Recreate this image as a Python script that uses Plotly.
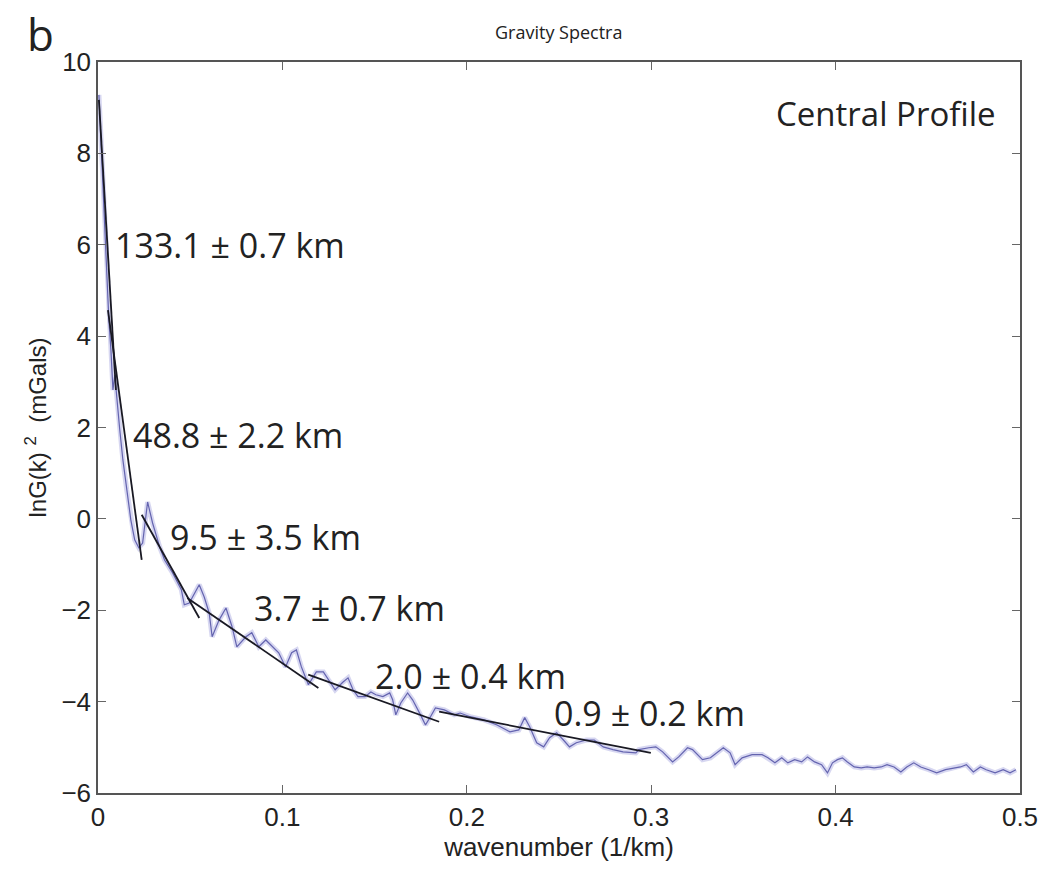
import plotly.graph_objects as go

# Blue spectrum (wavenumber 1/km, lnG(k)^2)
spec_x = [0.0005, 0.0016, 0.0027, 0.0038, 0.0048, 0.0059, 0.0070, 0.0081, 0.0091, 0.0102,
          0.0118, 0.0135, 0.0156, 0.0178, 0.0199, 0.0221, 0.0242, 0.0269, 0.0296, 0.0334,
          0.0361, 0.0404, 0.0452, 0.0468, 0.0495, 0.0549, 0.0576, 0.0603, 0.0619, 0.0657,
          0.0694, 0.0727, 0.0753, 0.0802, 0.0834, 0.0872, 0.0910, 0.0980, 0.1017, 0.1050,
          0.1076, 0.1103, 0.1141, 0.1184, 0.1222, 0.1249, 0.1286, 0.1329, 0.1356, 0.1383,
          0.1410, 0.1448, 0.1480, 0.1507, 0.1545, 0.1582, 0.1598, 0.1615, 0.1642, 0.1679,
          0.1706, 0.1749, 0.1776, 0.1803, 0.1830, 0.1878, 0.1932, 0.1964, 0.2018, 0.2094,
          0.2164, 0.2234, 0.2282, 0.2314, 0.2341, 0.2379, 0.2417, 0.2449, 0.2487, 0.2524,
          0.2557, 0.2594, 0.2648, 0.2691, 0.2740, 0.2793, 0.2847, 0.2917, 0.2933, 0.2987,
          0.3025, 0.3062, 0.3116, 0.3149, 0.3197, 0.3224, 0.3278, 0.3321, 0.3358, 0.3391,
          0.3428, 0.3455, 0.3493, 0.3547, 0.3601, 0.3633, 0.3671, 0.3708, 0.3741, 0.3778,
          0.3816, 0.3848, 0.3886, 0.3924, 0.3956, 0.3983, 0.4010, 0.4037, 0.4064, 0.4101,
          0.4139, 0.4171, 0.4209, 0.4247, 0.4279, 0.4317, 0.4354, 0.4386, 0.4424, 0.4462,
          0.4505, 0.4548, 0.4596, 0.4639, 0.4677, 0.4709, 0.4747, 0.4785, 0.4817, 0.4865,
          0.4909, 0.4946, 0.4978]
spec_y = [9.28, 8.29, 7.20, 6.10, 5.23, 4.35, 3.70, 2.82, 3.15, 2.60,
          1.95, 1.29, 0.63, -0.02, -0.46, -0.63, -0.53, 0.37, -0.09, -0.61,
          -0.90, -1.18, -1.55, -1.88, -1.84, -1.44, -1.71, -2.06, -2.58, -2.21,
          -1.95, -2.36, -2.80, -2.58, -2.49, -2.80, -2.65, -2.93, -3.24, -2.93,
          -2.87, -3.24, -3.63, -3.35, -3.35, -3.52, -3.74, -3.57, -3.48, -3.74,
          -3.89, -3.89, -3.79, -3.85, -3.89, -3.81, -3.96, -4.29, -4.03, -3.81,
          -3.96, -4.29, -4.51, -4.33, -4.14, -4.18, -4.29, -4.25, -4.33, -4.40,
          -4.51, -4.66, -4.62, -4.35, -4.55, -4.90, -4.99, -4.79, -4.68, -4.84,
          -4.99, -4.90, -4.84, -4.84, -4.99, -5.05, -5.10, -5.12, -5.05, -5.01,
          -4.99, -5.10, -5.32, -5.21, -5.01, -5.05, -5.27, -5.23, -5.12, -5.01,
          -5.12, -5.38, -5.23, -5.16, -5.16, -5.23, -5.34, -5.23, -5.34, -5.27,
          -5.32, -5.21, -5.32, -5.38, -5.56, -5.34, -5.27, -5.23, -5.32, -5.43,
          -5.45, -5.43, -5.45, -5.43, -5.38, -5.43, -5.54, -5.43, -5.34, -5.43,
          -5.49, -5.56, -5.49, -5.45, -5.43, -5.38, -5.54, -5.43, -5.49, -5.56,
          -5.49, -5.56, -5.49]

# Linear fit segments: (x0, y0) -> (x1, y1)
fit_x0 = [0.0005, 0.0054, 0.0237, 0.0484, 0.1140, 0.1850]
fit_y0 = [9.17, 4.57, 0.09, -1.73, -3.41, -4.22]
fit_x1 = [0.0097, 0.0237, 0.0549, 0.1195, 0.1850, 0.2998]
fit_y1 = [2.82, -0.90, -2.17, -3.70, -4.44, -5.12]

# Depth labels
label_text = ["133.1 ± 0.7 km", "48.8 ± 2.2 km", "9.5 ± 3.5 km",
              "3.7 ± 0.7 km", "2.0 ± 0.4 km", "0.9 ± 0.2 km"]
label_x = [0.0080, 0.0178, 0.0378, 0.0835, 0.149, 0.246]
label_y = [6.0, 1.84, -0.39, -1.95, -3.43, -4.25]

x_ticks = [0, 0.1, 0.2, 0.3, 0.4, 0.5]
x_ticklabels = ["0", "0.1", "0.2", "0.3", "0.4", "0.5"]
y_ticks = [-6, -4, -2, 0, 2, 4, 6, 8, 10]
y_ticklabels = ["\u22126", "\u22124", "\u22122", "0", "2", "4", "6", "8", "10"]

fig = go.Figure()
fig.add_trace(go.Scatter(x=spec_x, y=spec_y, mode="lines",
                         line=dict(color="rgba(175,175,228,0.5)", width=5),
                         hoverinfo="skip", showlegend=False))
fig.add_trace(go.Scatter(x=spec_x, y=spec_y, mode="lines",
                         line=dict(color="rgb(100,100,175)", width=1.2),
                         showlegend=False))
for i in range(len(fit_x0)):
    fig.add_trace(go.Scatter(x=[fit_x0[i], fit_x1[i]], y=[fit_y0[i], fit_y1[i]],
                             mode="lines", line=dict(color="rgb(25,25,35)", width=1.8),
                             showlegend=False))

ann_font = dict(family="Open Sans, sans-serif", size=34, color="#222")
for t, lx, ly in zip(label_text, label_x, label_y):
    fig.add_annotation(x=lx, y=ly, text=t, showarrow=False, xanchor="left",
                       yanchor="middle", font=ann_font)
fig.add_annotation(x=0.4882, y=8.88, text="Central Profile", showarrow=False,
                   xanchor="right", yanchor="middle",
                   font=dict(family="Open Sans, sans-serif", size=33, color="#222"))
fig.add_annotation(xref="paper", yref="paper", x=(562 - 98) / 929, y=1 + 30 / 731,
                   text="Gravity Spectra", showarrow=False, xanchor="center",
                   yanchor="middle", font=dict(family="Open Sans, sans-serif", size=18, color="#222"))
fig.add_annotation(xref="paper", yref="paper", x=-(98 - 40) / 929, y=1 + 28 / 731,
                   text="b", showarrow=False, xanchor="center", yanchor="middle",
                   font=dict(family="Open Sans, sans-serif", size=44, color="#222"))

narrow = "Liberation Sans Narrow, Arial Narrow, sans-serif"
tick_font = dict(family=narrow, size=26, color="#222")
axis_common = dict(showline=True, mirror="ticks", linecolor="#555", linewidth=1.5,
                   ticks="inside", ticklen=8, tickcolor="#666", tickwidth=1,
                   showgrid=False, zeroline=False, tickfont=tick_font)
fig.update_xaxes(range=[0, 0.5], tickvals=x_ticks, ticktext=x_ticklabels,
                 title=dict(text="wavenumber (1/km)", font=dict(family=narrow, size=26, color="#222"),
                            standoff=4),
                 **axis_common)
fig.update_yaxes(range=[-6, 10], tickvals=y_ticks, ticktext=y_ticklabels,
                 title=dict(text="lnG(k) <sup>2</sup>  (mGals)",
                            font=dict(family=narrow, size=24, color="#222"), standoff=8),
                 **axis_common)
fig.update_layout(width=1050, height=871, margin=dict(l=98, r=23, t=62, b=78),
                  plot_bgcolor="white", paper_bgcolor="white", showlegend=False)
fig.write_html("out.html")
